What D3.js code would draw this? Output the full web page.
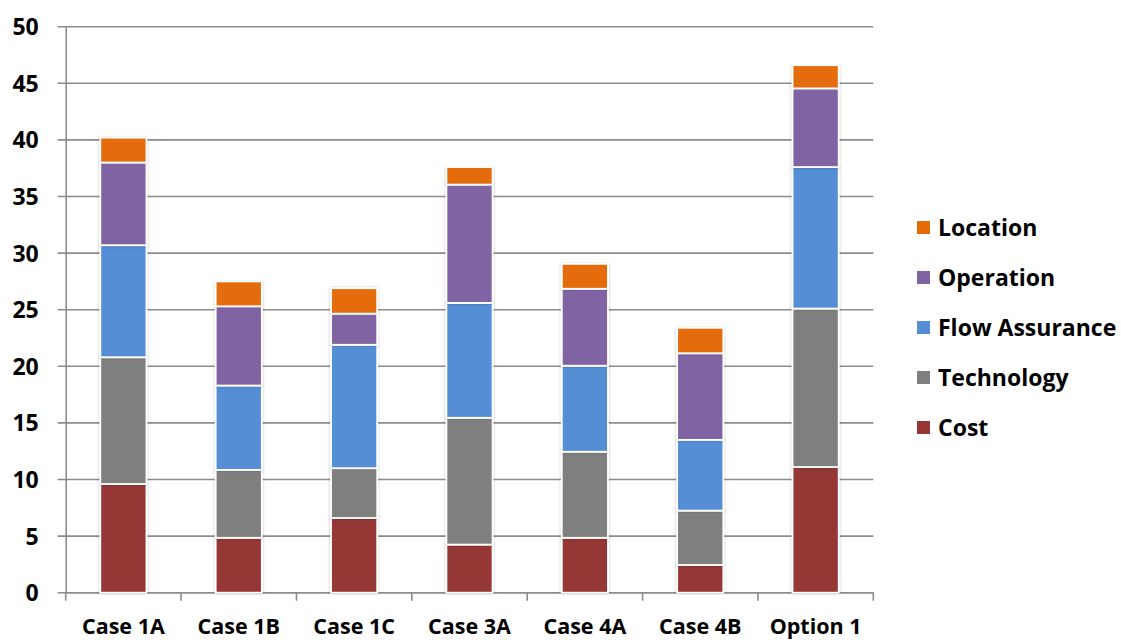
<!DOCTYPE html>
<html lang="en">
<head>
<meta charset="utf-8">
<title>Stacked scores</title>
<script src="https://d3js.org/d3.v7.min.js"></script>
<style>
  body { margin: 0; background: #fff; }
  text { font-family: "Open Sans", Lato, sans-serif; font-weight: bold; fill: #000; }
</style>
</head>
<body>
<script>
// categories and series
var cases = ["Case 1A", "Case 1B", "Case 1C", "Case 3A", "Case 4A", "Case 4B", "Option 1"];
var series = ["Cost", "Technology", "Flow Assurance", "Operation", "Location"];
var cost       = [9.6, 4.85, 6.6, 4.25, 4.85, 2.45, 11.1];
var technology = [11.2, 6.0, 4.4, 11.2, 7.6, 4.8, 14.0];
var flow       = [9.9, 7.45, 10.9, 10.15, 7.6, 6.25, 12.5];
var operation  = [7.3, 7.0, 2.75, 10.45, 6.8, 7.65, 6.95];
var location_  = [2.2, 2.2, 2.25, 1.55, 2.2, 2.25, 2.05];
var yTicks = [0, 5, 10, 15, 20, 25, 30, 35, 40, 45, 50];

var colors = {
  "Cost": "#953735",
  "Technology": "#7f7f7f",
  "Flow Assurance": "#558ed5",
  "Operation": "#8064a2",
  "Location": "#e46c0a"
};

var table = cases.map(function(c, i) {
  return {
    name: c,
    "Cost": cost[i],
    "Technology": technology[i],
    "Flow Assurance": flow[i],
    "Operation": operation[i],
    "Location": location_[i]
  };
});

var W = 1121, H = 640;
var margin = {top: 26.7, left: 65.7, right: 1121 - 873.3, bottom: 640 - 592.7};
var width = W - margin.left - margin.right,
    height = H - margin.top - margin.bottom;

var svg = d3.select("body").append("svg")
  .attr("width", W)
  .attr("height", H);

var defs = svg.append("defs");
var f = defs.append("filter").attr("id", "shadow")
  .attr("x", "-20%").attr("y", "-5%").attr("width", "140%").attr("height", "110%");
f.append("feDropShadow").attr("dx", 0).attr("dy", 0).attr("stdDeviation", 1.5)
  .attr("flood-color", "#000").attr("flood-opacity", 0.25);

var g = svg.append("g")
  .attr("transform", "translate(" + margin.left + "," + margin.top + ")");

var x = d3.scaleBand().domain(cases).range([0, width]).paddingInner(0.6).paddingOuter(0.3);
var y = d3.scaleLinear().domain([0, 50]).range([height, 0]);

// gridlines
g.append("g")
  .selectAll("line")
  .data(yTicks)
  .enter()
  .append("line")
  .attr("x1", -8)
  .attr("x2", width)
  .attr("y1", function(d) { return y(d); })
  .attr("y2", function(d) { return y(d); })
  .attr("stroke", "#8c8c8c")
  .attr("stroke-width", 1.6);

// y axis
var yAxis = g.append("g")
  .call(d3.axisLeft(y).tickValues(yTicks).tickSize(0).tickPadding(27));
yAxis.select(".domain").attr("stroke", "#8c8c8c").attr("stroke-width", 1.6);
yAxis.selectAll("text").style("font-size", "23px").attr("dy", "0.35em");

// x axis with ticks between categories
var xAxis = g.append("g").attr("transform", "translate(0," + height + ")");
xAxis.append("line")
  .attr("x1", 0).attr("x2", width)
  .attr("stroke", "#8c8c8c").attr("stroke-width", 1.6);
xAxis.selectAll(".tk")
  .data(d3.range(cases.length + 1))
  .enter()
  .append("line")
  .attr("class", "tk")
  .attr("x1", function(i) { return i * width / cases.length; })
  .attr("x2", function(i) { return i * width / cases.length; })
  .attr("y1", 0).attr("y2", 8)
  .attr("stroke", "#8c8c8c").attr("stroke-width", 1.6);
xAxis.selectAll(".lbl")
  .data(cases)
  .enter()
  .append("text")
  .attr("class", "lbl")
  .attr("x", function(d) { return x(d) + x.bandwidth() / 2; })
  .attr("y", 41)
  .attr("text-anchor", "middle")
  .style("font-size", "21.5px")
  .text(function(d) { return d; });

// stacked bars
var stack = d3.stack().keys(series)(table);

var layers = g.append("g")
  .selectAll("g")
  .data(stack)
  .enter()
  .append("g")
  .attr("fill", function(d) { return colors[d.key]; });

layers.selectAll("rect")
  .data(function(d) { return d; })
  .enter()
  .append("rect")
  .attr("x", function(d) { return x(d.data.name); })
  .attr("y", function(d) { return y(d[1]); })
  .attr("height", function(d) { return y(d[0]) - y(d[1]); })
  .attr("width", x.bandwidth())
  .attr("stroke", "#fff")
  .attr("stroke-width", 1.8)
  .attr("filter", "url(#shadow)");

// legend
var legend = svg.append("g").attr("transform", "translate(917,227.5)");
var legendItems = series.slice().reverse();
var li = legend.selectAll("g")
  .data(legendItems)
  .enter()
  .append("g")
  .attr("transform", function(d, i) { return "translate(0," + (i * 50) + ")"; });
li.append("rect")
  .attr("x", 0).attr("y", -6.5)
  .attr("width", 13).attr("height", 13)
  .attr("fill", function(d) { return colors[d]; });
li.append("text")
  .attr("x", 21)
  .attr("y", 0)
  .attr("dy", "0.36em")
  .style("font-size", "23px")
  .text(function(d) { return d; });
</script>
</body>
</html>
